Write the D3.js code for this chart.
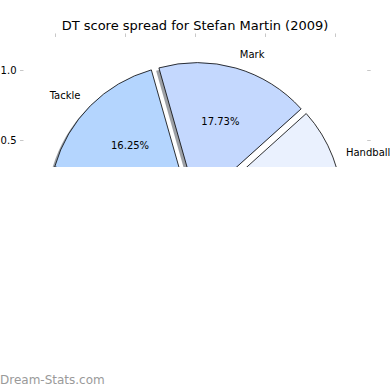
<!DOCTYPE html>
<html><head><meta charset="utf-8">
<script src="https://cdn.jsdelivr.net/npm/d3@7"></script>
<style>body{margin:0;background:#fff}svg{display:block}text{font-family:"DejaVu Sans",sans-serif}</style>
</head><body>
<svg id="c" width="390" height="390"></svg>
<script>
const title = "DT score spread for Stefan Martin (2009)";
const categories = ["Handball", "Mark", "Tackle", "Kick", "Hitout", "Free For", "Goal"];
const values = [11.67, 17.73, 16.25, 26.0, 21.5, 3.35, 3.5];
const colors = ["#eaf1fe", "#c4d8fe", "#b4d5fe", "#a3c4f3", "#8fb5ec", "#d6e4fb", "#7aa6e6"];
const xTicks = [-1, -0.5, 0, 0.5, 1];
const yTicks = [-1, -0.5, 0, 0.5, 1];
const explode = 0.055;

const svg = d3.select("#c");
const x = d3.scaleLinear().domain([-1, 1]).range([55, 335]);
const y = d3.scaleLinear().domain([-1, 1]).range([350, 70]);
const R = x(1) - x(0);
const cx = x(0), cy = y(0);
const clipH = 167;
const visible = v => v < clipH - 4;

svg.append("defs").append("clipPath").attr("id", "clip")
  .append("rect").attr("x", 0).attr("y", 0).attr("width", 390).attr("height", clipH);
const g = svg.append("g").attr("clip-path", "url(#clip)");

// title
g.append("text").attr("x", 195).attr("y", 29.5).attr("text-anchor", "middle")
  .attr("font-size", 13).attr("fill", "#000").text(title);

// axes (ticks on all sides)
const xL = x(-1.225), xR = x(1.23), yT = y(1.236);
function styleAxis(sel) {
  sel.select(".domain").remove();
  sel.selectAll(".tick line").attr("stroke", "#c8c8c8");
  sel.selectAll(".tick text").attr("font-size", 10).attr("fill", "#000").attr("font-family", "DejaVu Sans");
}
g.append("g").attr("transform", `translate(0,${yT})`)
  .call(d3.axisTop(x).tickValues(xTicks).tickSize(3.5).tickFormat("")).call(styleAxis);
g.append("g").attr("transform", `translate(${xL},0)`)
  .call(d3.axisLeft(y).tickValues(yTicks.filter(v => visible(y(v)))).tickSize(3.5).tickPadding(3.5).tickFormat(d3.format(".1f"))).call(styleAxis);
g.append("g").attr("transform", `translate(${xR},0)`)
  .call(d3.axisRight(y).tickValues(yTicks).tickSize(3.5).tickFormat("")).call(styleAxis);

// pie
const data = categories.map((c, i) => ({c, v: values[i], col: colors[i]}));
const pie = d3.pie().sort(null).value(d => d.v)
  .startAngle(Math.PI / 2).endAngle(Math.PI / 2 - 2 * Math.PI);
const arcs = pie(data);
const arc = d3.arc().innerRadius(0).outerRadius(R);
arcs.forEach(a => {
  const m = (a.startAngle + a.endAngle) / 2;
  a.dx = Math.sin(m); a.dy = -Math.cos(m);
  a.ox = cx + explode * R * a.dx; a.oy = cy + explode * R * a.dy;
});
const sh = 0.02 * R;
// shadows
g.selectAll("path.shadow").data(arcs).join("path").attr("class", "shadow")
  .attr("d", arc)
  .attr("transform", d => `translate(${d.ox - sh},${d.oy + sh})`)
  .attr("fill", d => { const c = d3.rgb(d.data.col); return d3.rgb(c.r * 0.3, c.g * 0.3, c.b * 0.3); })
  .attr("fill-opacity", 0.5);
// wedges
g.selectAll("path.wedge").data(arcs).join("path").attr("class", "wedge")
  .attr("d", arc)
  .attr("transform", d => `translate(${d.ox},${d.oy})`)
  .attr("fill", d => d.data.col)
  .attr("stroke", "#000").attr("stroke-width", 0.8).attr("stroke-linejoin", "miter");
// outer labels
const outer = arcs.filter(d => visible(d.oy + 1.1 * R * d.dy));
g.selectAll("text.lbl").data(outer).join("text").attr("class", "lbl")
  .attr("x", d => d.ox + 1.1 * R * d.dx)
  .attr("y", d => d.oy + 1.1 * R * d.dy)
  .attr("text-anchor", d => d.dx > 0 ? "start" : "end")
  .attr("dominant-baseline", "central")
  .attr("font-size", 10).attr("fill", "#000")
  .text(d => d.data.c);
// percent labels
const inner = arcs.filter(d => visible(d.oy + 0.6 * R * d.dy));
g.selectAll("text.pct").data(inner).join("text").attr("class", "pct")
  .attr("x", d => d.ox + 0.6 * R * d.dx)
  .attr("y", d => d.oy + 0.6 * R * d.dy)
  .attr("text-anchor", "middle")
  .attr("dominant-baseline", "central")
  .attr("font-size", 10).attr("fill", "#000")
  .text(d => d.data.v.toFixed(2) + "%");

// watermark
svg.append("text").attr("x", 0).attr("y", 384).attr("font-size", 12)
  .attr("fill", "#9a9a9a").text("Dream-Stats.com");
</script>
</body></html>
